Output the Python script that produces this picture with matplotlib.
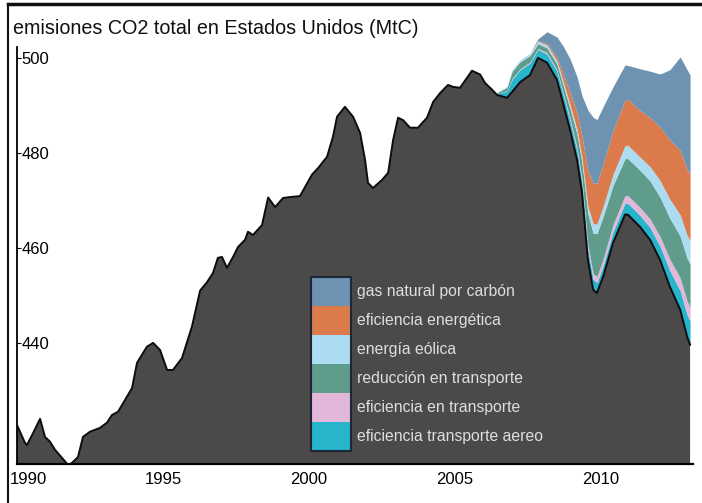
import matplotlib
matplotlib.use("Agg")
import matplotlib.pyplot as plt
from matplotlib.patches import Rectangle
from matplotlib.lines import Line2D
from matplotlib.transforms import ScaledTranslation
import numpy as np

plt.rcParams['font.family'] = ['Liberation Sans', 'DejaVu Sans']

# emisiones reales (MtC), serie mensual suavizada
anios = [1990.00, 1990.27, 1990.34, 1990.55, 1990.79, 1990.96, 1991.13, 1991.30, 1991.54, 1991.75,
         1991.88, 1992.09, 1992.26, 1992.50, 1992.84, 1993.08, 1993.25, 1993.46, 1993.70, 1993.94,
         1994.11, 1994.21, 1994.45, 1994.66, 1994.90, 1995.14, 1995.34, 1995.65, 1995.99, 1996.27,
         1996.51, 1996.71, 1996.88, 1997.02, 1997.19, 1997.40, 1997.57, 1997.81, 1997.91, 1998.08,
         1998.39, 1998.60, 1998.84, 1999.11, 1999.35, 1999.69, 2000.10, 2000.31, 2000.62, 2000.82,
         2000.96, 2001.23, 2001.51, 2001.75, 2001.92, 2002.02, 2002.19, 2002.50, 2002.71, 2002.88,
         2003.05, 2003.22, 2003.46, 2003.73, 2004.04, 2004.25, 2004.49, 2004.76, 2004.93, 2005.17,
         2005.41, 2005.58, 2005.86, 2006.03, 2006.27, 2006.44, 2006.78, 2006.95, 2007.23, 2007.57,
         2007.84, 2008.15, 2008.49, 2008.70, 2008.94, 2009.18, 2009.35, 2009.55, 2009.73, 2009.86,
         2010.07, 2010.41, 2010.82, 2010.92, 2011.34, 2011.68, 2012.02, 2012.36, 2012.71, 2012.95,
         2013.05]
emisiones = [422.7, 419.0, 418.5, 421.0, 424.0, 420.2, 419.2, 417.5, 415.8, 414.3,
             414.7, 416.0, 420.2, 421.3, 422.1, 423.2, 424.8, 425.5, 428.0, 430.5,
             435.8, 436.8, 439.2, 440.0, 438.5, 434.3, 434.3, 436.8, 443.4, 451.0,
             452.8, 454.7, 457.9, 458.1, 455.8, 458.1, 460.2, 461.7, 463.4, 462.7,
             464.8, 470.6, 468.6, 470.5, 470.7, 470.9, 475.4, 476.8, 479.2, 483.4,
             487.6, 489.7, 487.6, 484.2, 478.5, 473.7, 472.6, 474.3, 475.8, 482.7,
             487.4, 486.9, 485.3, 485.3, 487.4, 490.7, 492.6, 494.3, 493.9, 493.7,
             495.8, 497.3, 496.5, 494.7, 493.3, 492.2, 491.6, 492.8, 494.9, 496.4,
             500.0, 499.0, 495.4, 490.5, 484.8, 478.5, 471.6, 457.5, 451.2, 450.5,
             453.9, 461.0, 467.0, 467.0, 464.4, 461.7, 457.5, 451.8, 447.0, 441.3,
             439.6]

# reducciones apiladas sobre la serie real a partir de 2006.44 (MtC)
anios_cunas = anios[75:]
aereo = [0.3, 1.4, 2.6, 2.6, 2.5, 1.8, 1.8, 1.8, 1.9, 2.0, 2.0, 2.1, 2.2,
         2.2, 2.2, 2.3, 2.4, 2.4, 2.4, 2.4, 2.6, 2.9, 3.4, 4.0, 4.6, 5.0]
ef_transporte = [0.0, 0.1, 0.2, 0.2, 0.2, 0.2, 0.3, 0.3, 0.4, 0.5, 0.6, 0.7, 1.0,
                 1.2, 1.3, 1.4, 1.5, 1.6, 1.6, 1.7, 1.8, 2.0, 2.4, 2.7, 2.9, 3.0]
reduccion = [0.2, 0.7, 1.5, 1.5, 1.4, 1.0, 1.0, 1.2, 1.5, 2.0, 2.8, 3.5, 6.5,
             8.5, 9.0, 9.0, 8.2, 7.8, 7.8, 7.8, 8.0, 8.3, 8.6, 8.8, 9.0, 9.0]
eolica = [0.0, 0.2, 0.4, 0.4, 0.5, 0.5, 0.6, 0.7, 0.8, 0.9, 1.0, 1.1, 1.6,
          2.0, 2.0, 2.1, 2.4, 2.7, 2.8, 2.8, 3.0, 3.5, 4.0, 4.5, 4.8, 5.0]
energetica = [0.0, 0.0, 0.0, 0.0, 0.0, 0.1, 0.3, 0.8, 1.5, 2.5, 3.5, 4.5, 7.5,
              8.5, 8.6, 8.8, 9.2, 9.6, 9.7, 9.8, 10.3, 11.2, 12.5, 13.5, 13.9, 14.0]
gas = [0.0, 0.0, 0.0, 0.0, 0.0, 0.4, 2.5, 4.2, 5.9, 7.1, 7.6, 8.5, 12.7,
       13.9, 13.4, 12.2, 9.2, 7.4, 7.1, 8.8, 9.8, 11.2, 14.8, 19.7, 21.0, 20.8]

capas = [aereo, ef_transporte, reduccion, eolica, energetica, gas]
etiquetas = ["eficiencia transporte aereo", "eficiencia en transporte",
             "reducción en transporte", "energía eólica",
             "eficiencia energética", "gas natural por carbón"]
colores = ["#27b5cb", "#e3b7da", "#5f9c8b", "#abdcf1", "#db7b4c", "#6d92b2"]

W, H = 702, 503
fig = plt.figure(figsize=(W / 100, H / 100), dpi=100)
fig.patch.set_facecolor("white")


def fx(px):
    return px / W


def fy(py):
    return 1 - py / H


ax = fig.add_axes([fx(17), fy(464), fx(693) - fx(17), fy(8) - fy(464)])
ax.set_xlim(1990, 2013.15)
ax.set_ylim(414.5, 510.5)

# serie real
ax.fill_between(anios, 0, emisiones, color="#4b4a49", lw=0, zorder=2)

# cuñas apiladas
base = np.array(emisiones[75:])
for vals, col in zip(capas, colores):
    top = base + np.array(vals)
    ax.fill_between(anios_cunas, base, top, color=col, lw=0, zorder=1)
    base = top

ax.plot(anios, emisiones, color="#0c0c14", lw=1.4, zorder=3)

for s in ["top", "right"]:
    ax.spines[s].set_visible(False)
ax.spines["bottom"].set_linewidth(1.6)
ax.spines["left"].set_linewidth(1.3)
ax.spines["left"].set_bounds(414.5, 502.2)

ax.set_yticks([440, 460, 480, 500])
ax.set_xticks([1990, 1995, 2000, 2005, 2010])
ax.tick_params(axis="y", direction="in", length=3, pad=-3, labelsize=12)
ax.tick_params(axis="x", direction="in", length=4, pad=6, labelsize=12)
for lab in ax.get_yticklabels():
    lab.set_horizontalalignment("left")
primera = ax.get_xticklabels()[0]
primera.set_horizontalalignment("left")
primera.set_transform(primera.get_transform() + ScaledTranslation(-7 / 100, 0, fig.dpi_scale_trans))

fig.text(fx(13), fy(28), "emisiones CO2 total en Estados Unidos (MtC)",
         fontsize=14.2, ha="left", va="center", color="#111111")

# leyenda dibujada a mano: barra de colores y textos claros
x0, y0, alto = 311, 277, 29
for i, (col, txt) in enumerate(zip(colores[::-1], etiquetas[::-1])):
    fig.add_artist(Rectangle((fx(x0), fy(y0 + alto * (i + 1))), fx(40), alto / H,
                             facecolor=col, edgecolor="none", zorder=5))
    fig.text(fx(357), fy(y0 + alto * i + alto / 2), txt, fontsize=11.3,
             color="#dedede", ha="left", va="center", zorder=6)
fig.add_artist(Rectangle((fx(x0), fy(y0 + alto * 6)), fx(40), alto * 6 / H,
                         facecolor="none", edgecolor="#1d2735", lw=1.5, zorder=6))

# marco de la imagen
fig.add_artist(Line2D([fx(8), 1], [fy(4), fy(4)], color="#111111", lw=2.5))
fig.add_artist(Line2D([fx(8), fx(8)], [fy(4), 0], color="#111111", lw=1.5))

fig.savefig("out.png", dpi=100)
